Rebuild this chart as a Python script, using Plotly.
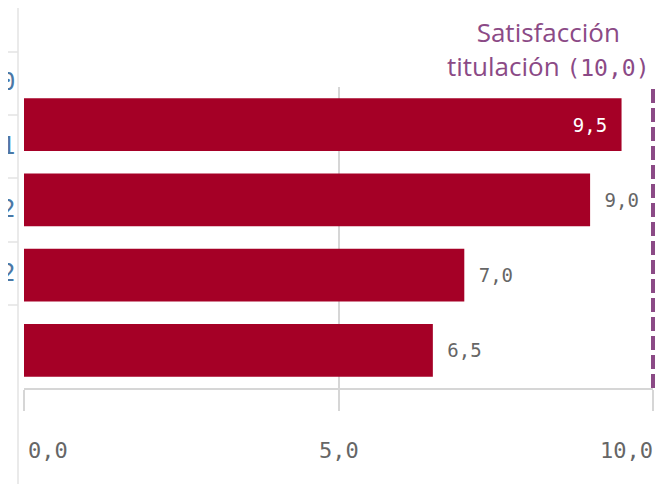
import plotly.graph_objects as go

# chart data
categories = ["A", "B", "C", "D"]
values = [9.5, 9.0, 7.0, 6.5]
target_value = 10.0
target_label = ("Satisfacción<br>titulación "
                "<span style='font-family:DejaVu Sans Mono;font-size:23px'>(10,0)</span>")
x_range = [0, 10]
x_ticks = [0, 5, 10]
x_tick_labels = ["0,0", "5,0", "10,0"]

# cropped table on the left edge
table_header = "p"
table_rows = ["0", "1", "2", "2"]

# the page body adds an 8px offset, so work in window pixels and shift
OFF = 8
W, H = 664 - OFF, 484 - OFF
L, R, T, B = 24 - OFF, 664 - 653, 87 - OFF, 484 - 388
BAR = "#a50026"
GRID = "#d6d6d6"
MONO = "DejaVu Sans Mono"
PURPLE = "#8b4a86"
NB = "\u00a0"


def px_x(px):
    return (px - 24) / (653 - 24)


def px_y(py):
    return (388 - py) / (388 - 87)


def fmt(v):
    return f"{v:.1f}".replace(".", ",")


inside = [v + 0.6 > target_value for v in values]

fig = go.Figure()
fig.add_trace(go.Bar(
    y=categories, x=values, orientation="h",
    marker=dict(color=BAR, line=dict(width=0)),
    text=[fmt(v) + NB if ins else NB + fmt(v) for v, ins in zip(values, inside)],
    textposition=["inside" if ins else "outside" for ins in inside],
    insidetextanchor="end",
    insidetextfont=dict(color="white", size=19, family=MONO),
    outsidetextfont=dict(color="#666666", size=19, family=MONO),
    textangle=0, cliponaxis=False,
))

# target line (paper-referenced so it isn't clipped at the plot edge)
tx = (target_value - x_range[0]) / (x_range[1] - x_range[0])
fig.add_shape(type="line", xref="paper", yref="paper", x0=tx, x1=tx,
              y0=0, y1=1, line=dict(color=PURPLE, width=4, dash="14px,5px"), layer="above")
fig.add_annotation(x=px_x(548), xref="paper", y=px_y(49), yref="paper",
                   xanchor="center", yanchor="middle",
                   text=target_label, showarrow=False, align="center",
                   font=dict(color=PURPLE, size=26, family="Open Sans"))

# tick labels, aligned like the original (first left, last right)
for i, (t, lab) in enumerate(zip(x_ticks, x_tick_labels)):
    anchor = "left" if i == 0 else ("right" if i == len(x_ticks) - 1 else "center")
    fig.add_annotation(x=t, xref="x", y=px_y(450), yref="paper", text=lab, showarrow=False,
                       xanchor=anchor, yanchor="middle", xshift=0 if anchor == "center" else 2,
                       font=dict(color="#666666", size=22, family=MONO))

# partial table on the left
fig.add_shape(type="line", xref="paper", yref="paper", x0=px_x(18), x1=px_x(18),
              y0=px_y(0), y1=px_y(484), line=dict(color="#e3e3e3", width=1.5))
fig.add_shape(type="line", xref="paper", yref="paper", x0=px_x(659), x1=px_x(659),
              y0=px_y(0), y1=px_y(484), line=dict(color="#ececec", width=1.5))
for py in [52, 115, 178, 242, 305]:
    fig.add_shape(type="line", xref="paper", yref="paper", x0=px_x(0), x1=px_x(18),
                  y0=px_y(py), y1=px_y(py), line=dict(color="#e3e3e3", width=1.5))
fig.add_annotation(x=px_x(10), y=px_y(20), xref="paper", yref="paper", text=table_header,
                   showarrow=False, xanchor="right", yanchor="middle",
                   font=dict(color="#222222", size=26, family="Roboto"))
for i, lab in enumerate(table_rows):
    fig.add_annotation(x=px_x(17), y=px_y(82 + 63.5 * i), xref="paper", yref="paper", text=lab,
                       showarrow=False, xanchor="right", yanchor="middle",
                       font=dict(color="#4a78a6", size=24, family=MONO))

fig.update_layout(
    width=W, height=H, margin=dict(l=L, r=R, t=T, b=B),
    paper_bgcolor="white", plot_bgcolor="white",
    bargap=0.3, showlegend=False,
    xaxis=dict(range=x_range, tickvals=x_ticks, showticklabels=False, showgrid=True,
               gridcolor=GRID, gridwidth=2, zeroline=False, showline=True, linecolor=GRID,
               linewidth=2, ticks="outside", ticklen=21, tickwidth=2, tickcolor=GRID),
    yaxis=dict(autorange="reversed", showticklabels=False, showgrid=False, zeroline=False,
               showline=False, ticks=""),
)

fig.write_html("out.html")
